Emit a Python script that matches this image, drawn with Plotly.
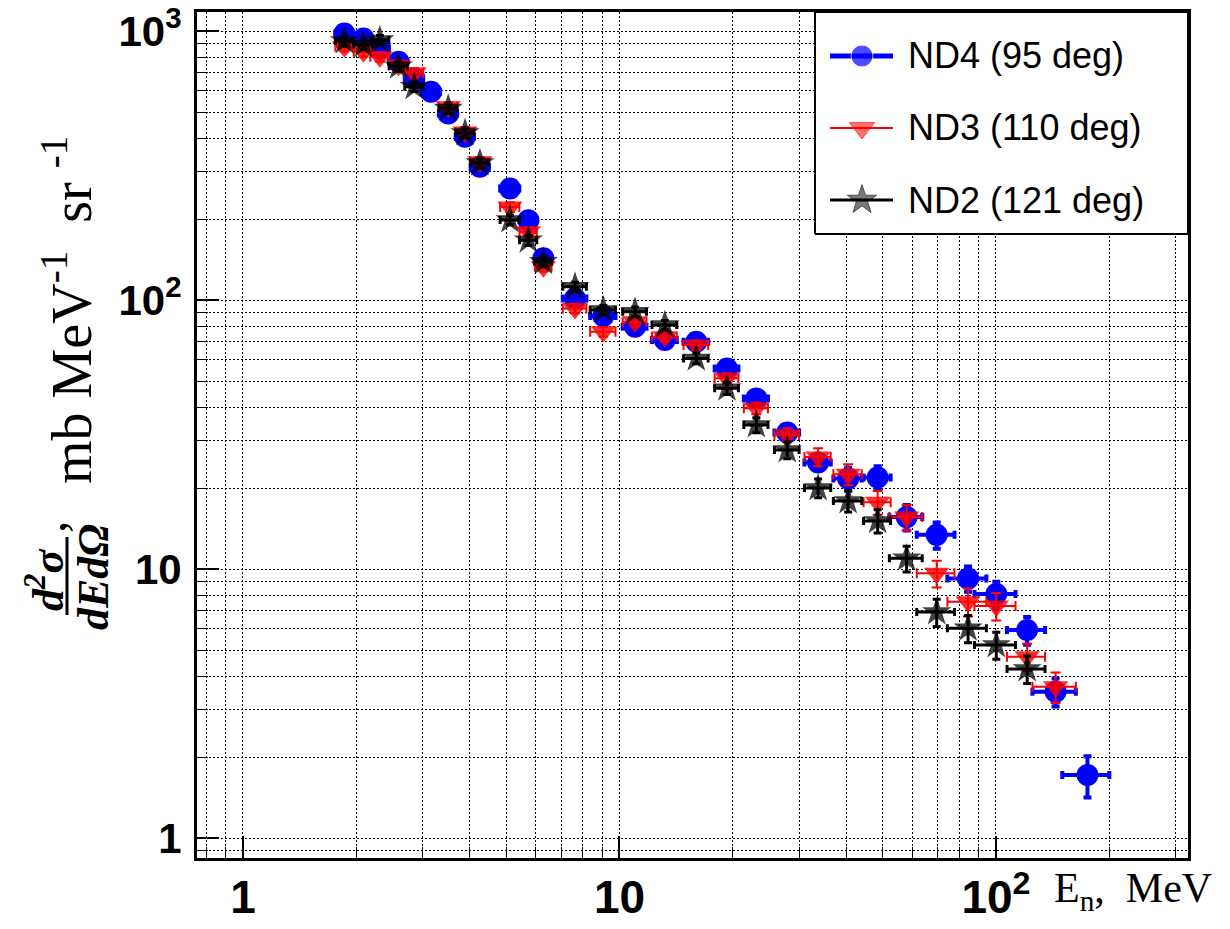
import plotly.graph_objects as go

# Neutron energy bin centres (MeV) and half-widths
energy = [1.86, 2.09, 2.31, 2.59, 2.85, 3.16, 3.51, 3.89, 4.26, 5.12, 5.73, 6.28,
          7.62, 9.06, 11.0, 13.2, 16.0, 19.3, 23.1, 27.9, 33.7, 40.5, 48.5, 57.9,
          69.6, 84.3, 100.2, 121.0, 144.0, 175.0]
energy_err = [0.10, 0.12, 0.13, 0.145, 0.16, 0.18, 0.195, 0.215, 0.235, 0.30, 0.30, 0.32,
              0.55, 0.70, 0.80, 1.0, 1.2, 1.4, 1.7, 2.1, 2.7, 3.5, 4.0, 5.8,
              8.0, 10.0, 12.5, 14.0, 19.0, 25.0]

# Double-differential cross sections, mb/MeV/sr
nd4 = [980, 939, 862, 769, 667, 595, 494, 405, 313, 260, 198, 143,
       101.4, 87.2, 79.6, 71.0, 70.0, 55.7, 43.1, 32.2, 24.9, 21.7, 21.9, 15.6,
       13.4, 9.23, 8.07, 5.93, 3.50, 1.715]
nd4_err = [35, 33, 30, 27, 23, 21, 17, 14, 11, 9, 7, 5,
           3.6, 3.1, 2.8, 2.5, 2.5, 2.2, 1.9, 1.6, 1.6, 2.1, 2.2, 1.7,
           1.5, 1.0, 0.9, 0.7, 0.42, 0.30]

nd3 = [874, 838, 803, 747, 700, None, 523, 422, 327, 222, 179.5, 133,
       93.1, 76.2, 83.1, 73.0, 68.0, 51.2, 39.6, 31.5, 26.1, 22.5, 17.7, 15.6,
       9.64, 7.56, 7.29, 4.72, 3.65, None]
nd3_err = [35, 33, 32, 30, 28, 0, 21, 17, 13, 9, 7, 5.3,
           3.7, 3.0, 3.3, 2.9, 2.7, 2.3, 2.0, 1.9, 2.0, 2.0, 1.8, 1.7,
           1.1, 0.9, 0.85, 0.55, 0.47, 0]

nd2 = [918, 890, 926, 740, 621, None, 515, 418, 323, 198.4, 167, 138.8,
       112.1, 91.8, 90.5, 80.7, 60.7, 47.0, 34.3, 27.7, 20.0, 17.9, 15.1, 10.96,
       6.92, 6.02, 5.22, 4.25, None, None]
nd2_err = [37, 36, 37, 30, 25, 0, 21, 17, 13, 8, 7, 5.5,
           4.5, 3.7, 3.6, 3.2, 2.7, 2.4, 2.2, 2.0, 1.6, 1.6, 1.5, 1.2,
           0.8, 0.7, 0.6, 0.5, 0, 0]

labels = ["ND4 (95 deg)", "ND3 (110 deg)", "ND2 (121 deg)"]

x_tickvals = [1, 10, 100]
x_ticktext = ["1", "10", "10<sup>2</sup>"]
y_tickvals = [1, 10, 100, 1000]
y_ticktext = ["1", "10", "10<sup>2</sup>", "10<sup>3</sup>"]

W, H = 1230, 929
ML, MR, MT, MB = 197, 42, 12, 71
PW, PH = W - ML - MR, H - MT - MB


def px(x):
    return (x - ML) / PW


def py(y):
    return (H - MB - y) / PH


styles = [
    dict(marker=dict(symbol="circle", size=22, color="#0000ff"),
         err=dict(color="#0000ff", thickness=4, width=4),
         line=dict(color="#0000ff", width=5)),
    dict(marker=dict(symbol="triangle-down", size=22, color="rgba(255,0,0,0.82)"),
         err=dict(color="#ff0000", thickness=2, width=5),
         line=dict(color="#ff0000", width=2)),
    dict(marker=dict(symbol="star", size=22, color="rgba(0,0,0,0.74)"),
         err=dict(color="#000000", thickness=3, width=4),
         line=dict(color="#000000", width=3)),
]

fig = go.Figure()
for name, vals, errs, st in zip(labels, [nd4, nd3, nd2], [nd4_err, nd3_err, nd2_err], styles):
    fig.add_trace(go.Scatter(
        x=energy, y=vals, mode="markers", name=name, showlegend=False,
        marker=st["marker"],
        error_x=dict(type="data", array=energy_err, **st["err"]),
        error_y=dict(type="data", array=errs, **st["err"]),
    ))

# Legend drawn on an overlay axis spanning the plot area
leg_x0, leg_y0 = px(815), py(234)
fig.add_trace(go.Scatter(
    x=[leg_x0, 1, 1, leg_x0, leg_x0], y=[leg_y0, leg_y0, 1, 1, leg_y0],
    xaxis="x2", yaxis="y2", mode="lines", fill="toself", fillcolor="white",
    line=dict(color="black", width=2), showlegend=False, hoverinfo="skip"))
row_y = [py(56), py(128), py(200)]
for name, yy, st in zip(labels, row_y, styles):
    fig.add_trace(go.Scatter(
        x=[px(830), px(862), px(893)], y=[yy, yy, yy], xaxis="x2", yaxis="y2",
        mode="lines+markers", line=st["line"],
        marker=dict(st["marker"], size=[0, st["marker"]["size"], 0]),
        showlegend=False, hoverinfo="skip"))
    fig.add_annotation(x=px(906), y=yy, xref="paper", yref="paper", text=name,
                       showarrow=False, xanchor="left", yanchor="middle",
                       font=dict(family="Liberation Sans, Arial", size=36, color="black"))

grid_dash = "2px,2px"
axis_common = dict(
    type="log", tickmode="array", automargin=False,
    ticks="inside", tickcolor="black", tickwidth=2,
    showline=True, linecolor="black", linewidth=3, mirror=True,
    showgrid=True, gridcolor="black", gridwidth=1, griddash=grid_dash,
    zeroline=False,
    minor=dict(tickmode="linear", dtick="D1", ticks="inside", ticklen=11,
               tickcolor="black", tickwidth=1,
               showgrid=True, gridcolor="black", gridwidth=1, griddash=grid_dash),
)

fig.update_layout(
    width=W, height=H,
    margin=dict(l=ML, r=MR, t=MT, b=MB),
    paper_bgcolor="white", plot_bgcolor="white",
    showlegend=False,
    xaxis=dict(axis_common, range=[-0.122, 2.510], tickvals=x_tickvals, ticktext=x_ticktext,
               ticklen=22, ticklabelstandoff=-3,
               tickfont=dict(family="Liberation Sans Narrow, Liberation Sans", size=46,
                             color="black", weight="bold")),
    yaxis=dict(axis_common, range=[-0.0743, 3.071], tickvals=y_tickvals, ticktext=y_ticktext,
               ticklen=22, ticklabelstandoff=4,
               tickfont=dict(family="Liberation Sans", size=42, color="black",
                             weight="bold")),
    xaxis2=dict(overlaying="x", range=[0, 1], visible=False, fixedrange=True,
                automargin=False),
    yaxis2=dict(overlaying="y", range=[0, 1], visible=False, fixedrange=True,
                automargin=False),
)

serif = "Liberation Serif, Times New Roman"
# x-axis title
fig.add_annotation(x=px(1052), y=py(891), xref="paper", yref="paper",
                   text="E<sub>n</sub>,  MeV", showarrow=False,
                   xanchor="left", yanchor="middle",
                   font=dict(family=serif, size=42, color="black"))
# y-axis title: fraction d2sigma / dE dOmega followed by units
fig.add_annotation(x=px(45), y=py(580), xref="paper", yref="paper",
                   text="<b><i>d<sup>2</sup>σ</i></b>", textangle=-90, showarrow=False,
                   xanchor="center", yanchor="middle",
                   font=dict(family=serif, size=44, color="black"))
fig.add_annotation(x=px(93), y=py(577), xref="paper", yref="paper",
                   text="<b><i>dEdΩ</i></b>", textangle=-90, showarrow=False,
                   xanchor="center", yanchor="middle",
                   font=dict(family=serif, size=44, color="black"))
fig.add_shape(type="line", xref="paper", yref="paper",
              x0=px(67), x1=px(67), y0=py(537), y1=py(615),
              line=dict(color="black", width=3))
fig.add_annotation(x=px(48), y=py(527), xref="paper", yref="paper",
                   text=",", textangle=-90, showarrow=False,
                   xanchor="center", yanchor="middle",
                   font=dict(family=serif, size=50, color="black"))
fig.add_annotation(x=px(68), y=py(310), xref="paper", yref="paper",
                   text="mb MeV<sup>-1</sup>  sr <sup>-1</sup>", textangle=-90,
                   showarrow=False, xanchor="center", yanchor="middle",
                   font=dict(family=serif, size=56, color="black"))

fig.write_html("out.html")
